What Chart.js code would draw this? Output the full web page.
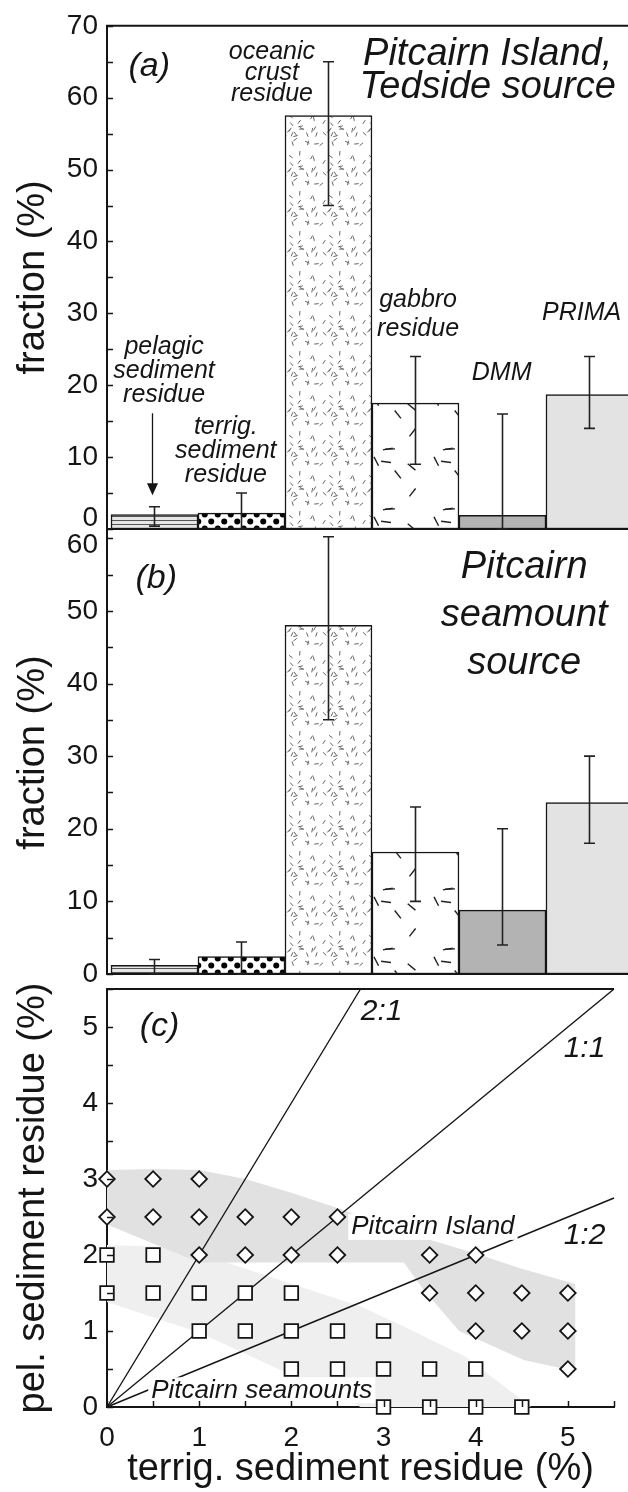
<!DOCTYPE html>
<html lang="en">
<head>
  <meta charset="UTF-8">
  <title>Pitcairn source components</title>
  <script src="https://cdn.jsdelivr.net/npm/chart.js"></script>
  <style>
    body { margin: 0; background: #fff; }
    #wrap { position: relative; width: 628px; height: 1492px; overflow: hidden; }
    .panel { position: absolute; left: 0; width: 628px; }
    #boxA { top: 0; height: 560px; }
    #boxB { top: 500px; height: 500px; }
    #boxC { top: 960px; height: 532px; }
  </style>
</head>
<body>
<div id="wrap">
  <div class="panel" id="boxB"><canvas id="chartB"></canvas></div>
  <div class="panel" id="boxA"><canvas id="chartA"></canvas></div>
  <div class="panel" id="boxC"><canvas id="chartC"></canvas></div>
</div>

<script>
// ---- data: panels (a) and (b), fraction of each source component (%) ----
const components = ['pelagic sediment residue', 'terrig. sediment residue', 'oceanic crust residue', 'gabbro residue', 'DMM', 'PRIMA'];
const barPos = [0.5, 1.5, 2.5, 3.5, 4.5, 5.5];

const tedsideFrac = [2.0, 2.2, 57.5, 17.5, 1.9, 18.7];
const tedsideLow  = [0.4, 0, 45, 9, 0, 14];
const tedsideHigh = [3.1, 5.0, 65, 24, 16, 24];

const seamountFrac = [1.2, 2.4, 48, 16.8, 8.8, 23.6];
const seamountLow  = [0, 0, 35, 10, 4, 18];
const seamountHigh = [2.0, 4.4, 60.2, 23, 20, 30];

// ---- data: panel (c), pel. vs terrig. sediment residue (%) ----
const islandX = [0, 0.5, 1,  0, 0.5, 1, 1.5, 2, 2.5,  1, 1.5, 2, 2.5, 3.5, 4,  3.5, 4, 4.5, 5,  4, 4.5, 5,  5];
const islandY = [3, 3, 3,  2.5, 2.5, 2.5, 2.5, 2.5, 2.5,  2, 2, 2, 2, 2, 2,  1.5, 1.5, 1.5, 1.5,  1, 1, 1,  0.5];
const seamtX = [0, 0.5,  0, 0.5, 1, 1.5, 2,  1, 1.5, 2, 2.5, 3,  2, 2.5, 3, 3.5, 4,  3, 3.5, 4, 4.5];
const seamtY = [2, 2,  1.5, 1.5, 1.5, 1.5, 1.5,  1, 1, 1, 1, 1,  0.5, 0.5, 0.5, 0.5, 0.5,  0, 0, 0, 0];

// outlines of the shaded fields
const islandFieldX = [0, 0.5, 1.0, 1.5, 2.0, 2.5, 3.0, 3.5, 4.0, 4.5, 5.08, 5.08, 4.52, 3.82, 3.43, 3.22, 1.0, 0.5, 0];
const islandFieldY = [3.12, 3.13, 3.12, 3.0, 2.82, 2.62, 2.4, 2.2, 2.02, 1.82, 1.62, 0.47, 0.62, 1.0, 1.55, 1.9, 1.9, 2.15, 2.4];
const seamtFieldX = [0, 0.8, 2.76, 3.22, 3.89, 4.6, 2.75, 2.6, 2.0, 1.0, 0];
const seamtFieldY = [2.13, 2.1, 1.32, 1.06, 0.66, 0, 0, 0.1, 0.42, 0.98, 1.38];

// mixing ratio lines (pel. : terrig.)
const ratioLabels = ['2:1', '1:1', '1:2'];
const ratioEndX = [2.75, 5.5, 5.5];
const ratioEndY = [5.5, 5.5, 2.75];

// ---------------------------------------------------------------
Chart.defaults.font.family = "'Liberation Sans', Arial, Helvetica, sans-serif";
Chart.defaults.color = '#151515';
Chart.defaults.animation = false;
Chart.defaults.plugins.legend.display = false;
Chart.defaults.plugins.tooltip.enabled = false;

const INK = '#151515';
const AXIS_W = 107;   // width of the left axis box, same for all three panels
const TICK_FONT = 28;
const TITLE_FONT = 38;

const pts = (xs, ys) => xs.map((x, i) => ({ x: x, y: ys[i] }));

// fill textures for the bars
function tile(w, h, paint) {
  const c = document.createElement('canvas');
  c.width = w; c.height = h;
  const g = c.getContext('2d');
  paint(g);
  return g.createPattern(c, 'repeat');
}
function dashTexture(size, count, len, width, color, seed) {
  return tile(size, size, g => {
    g.fillStyle = '#fff';
    g.fillRect(0, 0, size, size);
    g.strokeStyle = color;
    g.lineWidth = width;
    let s = seed;
    const next = () => (s = (s * 16807) % 2147483647) / 2147483647;   // fixed texture sequence
    for (let k = 0; k < 5; k++) next();
    for (let i = 0; i < count; i++) {
      const cx = next() * size, cy = next() * size, a = next() * Math.PI;
      const dx = Math.cos(a) * len / 2, dy = Math.sin(a) * len / 2;
      for (const ox of [-size, 0, size]) {
        for (const oy of [-size, 0, size]) {
          g.beginPath();
          g.moveTo(cx - dx + ox, cy - dy + oy);
          g.lineTo(cx + dx + ox, cy + dy + oy);
          g.stroke();
        }
      }
    }
  });
}
const hatchLines = tile(6, 4, g => {
  g.fillStyle = '#e6e6e6'; g.fillRect(0, 0, 6, 4);
  g.fillStyle = '#555'; g.fillRect(0, 0, 6, 1);
});
const polkaDots = tile(13, 14, g => {
  g.fillStyle = '#fff'; g.fillRect(0, 0, 13, 14);
  g.fillStyle = '#000';
  g.beginPath(); g.arc(3.25, 3.5, 3.0, 0, Math.PI * 2); g.fill();
  g.beginPath(); g.arc(9.75, 10.5, 3.0, 0, Math.PI * 2); g.fill();
});
const crustDash = dashTexture(40, 26, 4.5, 1, '#666', 24681357);
const gabbroDash = dashTexture(60, 7, 10, 1.4, '#222', 987654321);
const barFills = [hatchLines, polkaDots, crustDash, gabbroDash, '#b3b3b3', '#e3e3e3'];

// axis lines, inward tick marks and optional top frame line
function framePlugin(topLine, bottomLine, xTicks) {
  return {
    id: 'frame',
    afterDatasetsDraw(chart) {
      const { ctx, chartArea: a, scales } = chart;
      ctx.save();
      ctx.strokeStyle = INK;
      ctx.lineWidth = 1.5;
      ctx.beginPath();
      scales.y.ticks.forEach(t => {
        const py = Math.round(scales.y.getPixelForValue(t.value)) + 0.5;
        ctx.moveTo(a.left, py); ctx.lineTo(a.left + 6, py);
      });
      if (xTicks) {
        scales.x.ticks.forEach(t => {
          const px = Math.round(scales.x.getPixelForValue(t.value)) + 0.5;
          ctx.moveTo(px, a.bottom); ctx.lineTo(px, a.bottom - 6);
        });
      }
      ctx.stroke();
      ctx.lineWidth = 2;
      ctx.beginPath();
      if (topLine) { ctx.moveTo(a.left - 1, a.top); ctx.lineTo(a.right, a.top); }
      if (bottomLine) { ctx.moveTo(a.left - 1, a.bottom); ctx.lineTo(a.right, a.bottom); }
      ctx.stroke();
      ctx.restore();
    }
  };
}

function errorPlugin(xs, lows, highs) {
  return {
    id: 'errorBars',
    afterDatasetsDraw(chart) {
      const { ctx, scales: { x, y } } = chart;
      const cap = 5.5;
      ctx.save();
      ctx.strokeStyle = '#222';
      ctx.lineWidth = 1.6;
      ctx.beginPath();
      xs.forEach((xv, i) => {
        const px = Math.round(x.getPixelForValue(xv)) + 0.5;
        const top = y.getPixelForValue(highs[i]);
        const bot = y.getPixelForValue(lows[i]);
        ctx.moveTo(px, top); ctx.lineTo(px, bot);
        ctx.moveTo(px - cap, top); ctx.lineTo(px + cap, top);
        ctx.moveTo(px - cap, bot); ctx.lineTo(px + cap, bot);
      });
      ctx.stroke();
      ctx.restore();
    }
  };
}

// text notes placed in data units
function drawNotes(chart, notes) {
  const { ctx, scales: { x, y } } = chart;
  ctx.save();
  notes.forEach(n => {
    const px = x.getPixelForValue(n.x);
    const py = y.getPixelForValue(n.y);
    ctx.font = 'italic ' + n.size + "px 'Liberation Sans', Arial, sans-serif";
    ctx.textAlign = n.align || 'center';
    ctx.textBaseline = 'middle';
    const lh = n.lh || n.size;
    if (n.box) {
      const w = ctx.measureText(n.lines[0]).width;
      ctx.fillStyle = '#fff';
      ctx.fillRect(px - 3, py - n.size * 0.5, w + 6, n.size * 1.0);
    }
    ctx.fillStyle = INK;
    n.lines.forEach((t, i) => ctx.fillText(t, px, py + (i - (n.lines.length - 1) / 2) * lh));
    if (n.arrowTo !== undefined) {
      const ax = Math.round(x.getPixelForValue(n.arrowX)) + 0.5;
      const tip = y.getPixelForValue(n.arrowTo);
      const from = y.getPixelForValue(n.arrowFrom);
      ctx.strokeStyle = INK; ctx.lineWidth = 1.3;
      ctx.beginPath(); ctx.moveTo(ax, from); ctx.lineTo(ax, tip - 10); ctx.stroke();
      ctx.beginPath(); ctx.moveTo(ax - 5.5, tip - 12); ctx.lineTo(ax + 5.5, tip - 12); ctx.lineTo(ax, tip); ctx.closePath(); ctx.fill();
    }
  });
  ctx.restore();
}

function fractionChart(id, frac, low, high, yMax, notes, shiftTick, shiftDir, shiftLh, pad, topLine) {
  return new Chart(document.getElementById(id), {
    type: 'bar',
    data: {
      labels: components,
      datasets: [{
        data: pts(barPos, frac),
        backgroundColor: barFills,
        borderColor: INK,
        borderWidth: 1.5,
        borderSkipped: false,
        barPercentage: 1,
        categoryPercentage: 1
      }]
    },
    options: {
      responsive: true,
      maintainAspectRatio: false,
      devicePixelRatio: 1,
      layout: { padding: pad },
      scales: {
        x: { type: 'linear', display: false, offset: false, min: -0.046, max: 5.943,
          grid: { offset: false }, ticks: { stepSize: 1, includeBounds: false } },
        y: {
          min: 0, max: yMax,
          border: { display: true, color: INK, width: 2 },
          grid: { display: false, drawTicks: false },
          ticks: {
            stepSize: 5, autoSkip: false, includeBounds: false, padding: 9,
            font: c => ({ size: TICK_FONT, lineHeight: (c.tick && c.tick.value === shiftTick) ? shiftLh : 1.2 }),
            callback: v => {
              if (v % 10 !== 0) return '';
              if (v === shiftTick) return shiftDir < 0 ? [String(v), ''] : ['', String(v)];
              return String(v);
            }
          },
          title: { display: true, text: 'fraction (%)', font: { size: TITLE_FONT }, padding: { top: 11, bottom: 0 } },
          afterFit: s => { s.width = AXIS_W; }
        }
      }
    },
    plugins: [framePlugin(topLine, true, false), errorPlugin(barPos, low, high),
      { id: 'notes', afterDraw: ch => drawNotes(ch, notes) }]
  });
}

// panel (a)
fractionChart('chartA', tedsideFrac, tedsideLow, tedsideHigh, 70, [
  { lines: ['(a)'], x: 0.44, y: 64.4, size: 34 },
  { lines: ['Pitcairn Island,', 'Tedside source'], x: 4.33, y: 63.7, size: 38, lh: 33 },
  { lines: ['oceanic', 'crust', 'residue'], x: 1.85, y: 63.4, size: 25, lh: 21 },
  { lines: ['gabbro', 'residue'], x: 3.53, y: 29.8, size: 25, lh: 29 },
  { lines: ['DMM'], x: 4.49, y: 21.7, size: 25 },
  { lines: ['PRIMA'], x: 5.41, y: 30.0, size: 25 },
  { lines: ['pelagic', 'sediment', 'residue'], x: 0.61, y: 22.0, size: 25, lh: 24, arrowX: 0.47, arrowFrom: 16.1, arrowTo: 4.7 },
  { lines: ['terrig.', 'sediment', 'residue'], x: 1.32, y: 10.8, size: 25, lh: 24 }
], 0, -1, '22px', { top: 25, bottom: 31, left: 0, right: 0 }, true);

// panel (b)
fractionChart('chartB', seamountFrac, seamountLow, seamountHigh, 61, [
  { lines: ['(b)'], x: 0.52, y: 54.5, size: 34 },
  { lines: ['Pitcairn', 'seamount', 'source'], x: 4.75, y: 49.4, size: 38, lh: 48 }
], 60, 1, '14px', { top: 31, bottom: 26, left: 0, right: 0 }, false);

// panel (c)
const notesC = [
  { lines: ['(c)'], x: 0.57, y: 5.0, size: 34 },
  { lines: [ratioLabels[0]], x: 2.98, y: 5.2, size: 30 },
  { lines: [ratioLabels[1]], x: 5.18, y: 4.72, size: 30 },
  { lines: [ratioLabels[2]], x: 5.18, y: 2.25, size: 30 },
  { lines: ['Pitcairn Island'], x: 2.65, y: 2.37, size: 26, align: 'left', box: true },
  { lines: ['Pitcairn seamounts'], x: 0.48, y: 0.22, size: 26, align: 'left', box: true }
];

const ratioSets = ratioLabels.map((lab, i) => ({
  type: 'line',
  label: lab,
  data: pts([0, ratioEndX[i]], [0, ratioEndY[i]]),
  showLine: true,
  borderColor: INK,
  borderWidth: 1.4,
  pointRadius: 0,
  fill: false,
  order: 2
}));

new Chart(document.getElementById('chartC'), {
  type: 'scatter',
  data: {
    datasets: [
      { type: 'line', label: 'island field', data: pts(islandFieldX, islandFieldY), showLine: true, fill: 'shape',
        backgroundColor: '#e1e1e1', borderWidth: 0, pointRadius: 0, tension: 0, order: 3 },
      { type: 'line', label: 'seamount field', data: pts(seamtFieldX, seamtFieldY), showLine: true, fill: 'shape',
        backgroundColor: '#efefef', borderWidth: 0, pointRadius: 0, tension: 0, order: 4 },
      ...ratioSets,
      { label: 'Pitcairn seamounts', data: pts(seamtX, seamtY), pointStyle: 'rect', pointRadius: 9.6,
        backgroundColor: '#fff', borderColor: INK, borderWidth: 1.8, order: 1 },
      { label: 'Pitcairn Island', data: pts(islandX, islandY), pointStyle: 'rectRot', pointRadius: 7.8,
        backgroundColor: '#fff', borderColor: INK, borderWidth: 1.8, order: 1 }
    ]
  },
  options: {
    responsive: true,
    maintainAspectRatio: false,
    devicePixelRatio: 1,
    clip: false,
    layout: { padding: { top: 29, bottom: 0, left: 0, right: 0 } },
    scales: {
      x: {
        type: 'linear', min: 0, max: 5.5,
        border: { display: true, color: INK, width: 2 },
        grid: { display: false, drawTicks: false },
        ticks: { stepSize: 0.5, autoSkip: false, maxRotation: 0, padding: 14, font: { size: TICK_FONT },
          callback: v => Number.isInteger(v) ? String(v) : '' },
        title: { display: true, text: 'terrig. sediment residue (%)', font: { size: TITLE_FONT }, padding: { top: 0, bottom: 0 } },
        afterFit: s => { s.height = 85; }
      },
      y: {
        type: 'linear', min: 0, max: 5.5,
        border: { display: true, color: INK, width: 2 },
        grid: { display: false, drawTicks: false },
        ticks: { stepSize: 0.5, autoSkip: false, padding: 9, font: { size: TICK_FONT },
          callback: v => Number.isInteger(v) ? String(v) : '' },
        title: { display: true, text: 'pel. sediment residue (%)', font: { size: TITLE_FONT }, padding: { top: 11, bottom: 0 } },
        afterFit: s => { s.width = AXIS_W; }
      }
    }
  },
  plugins: [
    framePlugin(true, false, true),
    {
      id: 'notesC',
      beforeDatasetDraw(ch, args) {
        if (ch.data.datasets[args.index].label === 'Pitcairn Island') drawNotes(ch, notesC);
      }
    }
  ]
});
</script>
</body>
</html>
